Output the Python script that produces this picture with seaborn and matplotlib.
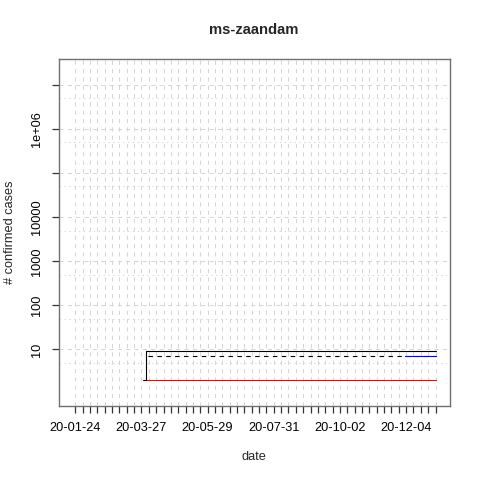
import matplotlib
matplotlib.use("Agg")
import matplotlib.pyplot as plt
import matplotlib.dates as mdates
import numpy as np
import pandas as pd
import seaborn as sns

TITLE = "ms-zaandam"
X_LABEL = "date"
Y_LABEL = "# confirmed cases"

# Series as change points (value holds until the next date)
confirmed_dates = ["2020-03-28", "2020-03-31", "2021-01-01"]
confirmed_vals = [2, 9, 9]
deaths_dates = ["2020-03-31", "2021-01-01"]
deaths_vals = [2, 2]
active_dates = ["2020-04-02", "2021-01-01"]
active_vals = [7, 7]
recovered_dates = ["2020-12-03", "2021-01-01"]
recovered_vals = [7, 7]

# Axis range (before R-style 4% expansion) and ticks
x_first = "2020-01-22"
x_last = "2021-01-01"
xtick_first = "2020-01-24"
y_range = (1, 2e7)
ytick_vals = [10, 100, 1000, 10000, 1e5, 1e6, 1e7]
ytick_labels = ["10", "100", "1000", "10000", "", "1e+06", ""]
ydot_vals = [5, 50, 500, 5000, 5e4, 5e5, 5e6]


def frame(dates, vals):
    return pd.DataFrame({"date": pd.to_datetime(dates), "value": vals})


sns.set_style("white")
plt.rcParams["font.family"] = ["Liberation Sans", "DejaVu Sans"]

fig = plt.figure(figsize=(4.8, 4.8), dpi=100)
ax = fig.add_axes([58.7 / 480, 1 - 406.3 / 480, (450 - 58.7) / 480, (406.3 - 59) / 480])

# R-style axis expansion
x0 = mdates.date2num(pd.Timestamp(x_first))
x1 = mdates.date2num(pd.Timestamp(x_last))
dx = (x1 - x0) * 0.04
ax.set_xlim(x0 - dx, x1 + dx)
ly0, ly1 = np.log10(y_range[0]), np.log10(y_range[1])
dy = (ly1 - ly0) * 0.04
ax.set_yscale("log")
ax.set_ylim(10 ** (ly0 - dy), 10 ** (ly1 + dy))

xticks = pd.date_range(xtick_first, x_last, freq="7D")
xtick_labels = [d.strftime("%y-%m-%d") if i % 9 == 0 else "" for i, d in enumerate(xticks)]

grid_kw = dict(color="#d6d6d6", linewidth=0.75, zorder=0)
for d in xticks:
    ax.axvline(mdates.date2num(d), linestyle=(0, (4, 4)), **grid_kw)
for v in ytick_vals:
    ax.axhline(v, linestyle=(0, (4, 4)), **grid_kw)
for v in ydot_vals:
    ax.axhline(v, linestyle=(0, (1.2, 3.5)), **grid_kw)

line_kw = dict(x="date", y="value", estimator=None, drawstyle="steps-post",
               linewidth=0.8, ax=ax, legend=False)
sns.lineplot(data=frame(deaths_dates, deaths_vals), color="red", **line_kw)
sns.lineplot(data=frame(active_dates, active_vals), color="black",
             linestyle=(0, (4, 4)), **line_kw)
sns.lineplot(data=frame(recovered_dates, recovered_vals), color="blue", **line_kw)
sns.lineplot(data=frame(confirmed_dates, confirmed_vals), color="black", **line_kw)

ax.set_xticks(mdates.date2num(xticks))
ax.set_xticklabels(xtick_labels)
ax.set_yticks(ytick_vals)
ax.set_yticklabels(ytick_labels, rotation=90, va="center")
ax.yaxis.set_minor_locator(matplotlib.ticker.NullLocator())
ax.tick_params(axis="both", which="major", direction="out", length=5, width=0.9,
               color="#333333", labelsize=9.2, labelcolor="black", left=True, bottom=True)
ax.tick_params(axis="x", pad=6.5)
ax.tick_params(axis="y", pad=6)
ax.set_xlabel("")
ax.set_ylabel("")

for s in ax.spines.values():
    s.set_color("#707070")
    s.set_linewidth(1.0)

fig.text(254 / 480, 1 - 30 / 480, TITLE, ha="center", va="center",
         fontsize=10.6, fontweight="bold")
fig.text(254 / 480, 1 - 457 / 480, X_LABEL, ha="center", va="center", fontsize=9.2)
fig.text(10 / 480, 1 - 232 / 480, Y_LABEL, ha="center", va="center",
         rotation=90, fontsize=9.2)

fig.savefig("out.png", dpi=100)
